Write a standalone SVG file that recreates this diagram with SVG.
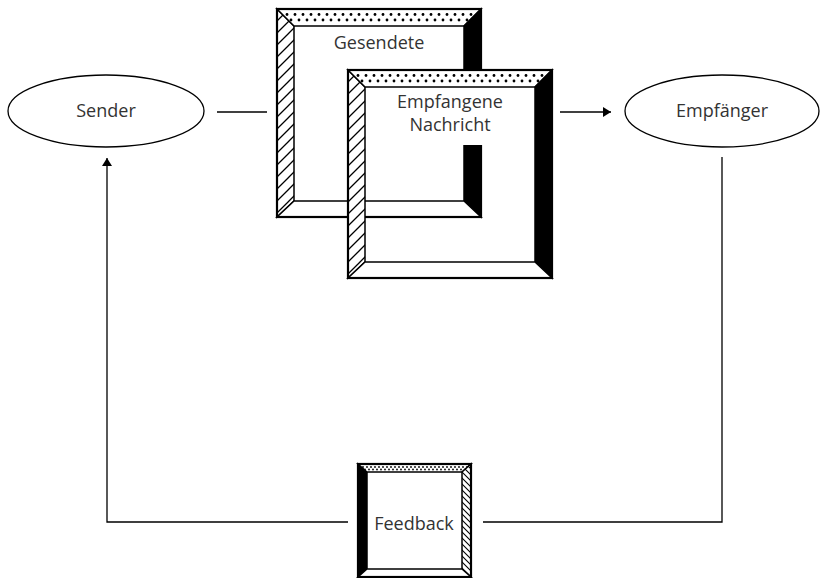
<svg xmlns="http://www.w3.org/2000/svg" width="820" height="578" viewBox="0 0 820 578">
  <style>
    .txt { font-family: "Open Sans", "Liberation Sans", sans-serif; font-size: 18px; fill: #333; text-anchor: middle; }
    .edge { fill: none; stroke: #000; stroke-width: 1.3; }
    .ell { fill: #fff; stroke: #000; stroke-width: 1.3; }
    .bev { stroke: #000; stroke-width: 1.5; stroke-linejoin: miter; }
    .outer { fill: none; stroke: #000; stroke-width: 2.2; }
  </style>
  <defs>
    <pattern id="dotsBig" width="8" height="17" patternUnits="userSpaceOnUse">
      <rect width="8" height="17" fill="#fff"/>
      <circle cx="2" cy="5.5" r="1.4" fill="#000"/>
      <circle cx="6" cy="11" r="1.4" fill="#000"/>
    </pattern>
    <pattern id="hatchBig" width="12" height="12" patternUnits="userSpaceOnUse">
      <rect width="12" height="12" fill="#fff"/>
      <path d="M-3,3 L3,-3 M0,12 L12,0 M9,15 L15,9" stroke="#000" stroke-width="1.3"/>
    </pattern>
    <pattern id="dotsSmall" width="4" height="8" patternUnits="userSpaceOnUse">
      <rect width="4" height="8" fill="#fff"/>
      <circle cx="1" cy="3" r="0.9" fill="#000"/>
      <circle cx="3" cy="5.5" r="0.9" fill="#000"/>
    </pattern>
    <pattern id="hatchSmall" width="6" height="6" patternUnits="userSpaceOnUse">
      <rect width="6" height="6" fill="#fff"/>
      <path d="M-1,-1 L7,7 M-1,5 L1,7 M5,-1 L7,1" stroke="#000" stroke-width="1.1"/>
    </pattern>
    <g id="bigFrame">
      <path class="bev" fill="url(#hatchBig)" d="M0,0 L17,17 L17,192 L0,208 Z"/>
      <path class="bev" fill="url(#dotsBig)" d="M0,0 L204,0 L187,17 L17,17 Z"/>
      <path class="bev" fill="#000" d="M204,0 L204,208 L187,192 L187,17 Z"/>
      <path class="bev" fill="#fff" d="M0,208 L204,208 L187,192 L17,192 Z"/>
      <rect class="outer" x="0" y="0" width="204" height="208"/>
    </g>
    <marker id="arrow" markerWidth="9" markerHeight="10" refX="8" refY="5" orient="auto" markerUnits="userSpaceOnUse">
      <path d="M0,0 L8,5 L0,10 Z" fill="#000"/>
    </marker>
  </defs>

  <g id="connectors">
    <line class="edge" x1="217" y1="112" x2="267" y2="112"/>
    <line class="edge" x1="560" y1="112" x2="611" y2="112" marker-end="url(#arrow)"/>
    <polyline class="edge" points="722,157 722,522 483,522"/>
    <polyline class="edge" points="348,522 107,522 107,158" marker-end="url(#arrow)"/>
  </g>

  <g id="sender">
    <ellipse class="ell" cx="106" cy="111" rx="98" ry="36"/>
    <text class="txt" x="106" y="117">Sender</text>
  </g>

  <g id="empfaenger">
    <ellipse class="ell" cx="722" cy="111" rx="97" ry="36"/>
    <text class="txt" x="722" y="117">Empfänger</text>
  </g>

  <g id="gesendete">
    <use href="#bigFrame" transform="translate(277,9)"/>
    <text class="txt" x="379" y="49">Gesendete</text>
  </g>

  <g id="empfangene">
    <rect x="365" y="87" width="170" height="58" fill="#fff"/>
    <use href="#bigFrame" transform="translate(348,70)"/>
    <text class="txt" x="450" y="108">Empfangene</text>
    <text class="txt" x="450" y="131">Nachricht</text>
  </g>

  <g id="feedback">
    <g transform="translate(358,464)">
      <rect x="9" y="8" width="95" height="97" fill="#fff"/>
      <path class="bev" fill="#000" d="M0,0 L9,8 L9,105 L0,113 Z"/>
      <path class="bev" fill="url(#dotsSmall)" d="M0,0 L113,0 L104,8 L9,8 Z"/>
      <path class="bev" fill="url(#hatchSmall)" d="M113,0 L113,113 L104,105 L104,8 Z"/>
      <path class="bev" fill="#fff" d="M0,113 L113,113 L104,105 L9,105 Z"/>
      <rect class="outer" x="0" y="0" width="113" height="113"/>
    </g>
    <text class="txt" x="414" y="530">Feedback</text>
  </g>
</svg>
